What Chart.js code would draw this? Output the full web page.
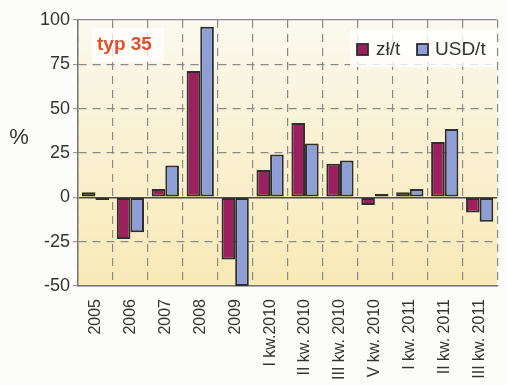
<!DOCTYPE html>
<html>
<head>
<meta charset="utf-8">
<script src="https://cdn.jsdelivr.net/npm/chart.js@4/dist/chart.umd.min.js"></script>
<style>
  html, body { margin: 0; padding: 0; background: #fcfcfb; overflow: hidden; }
  #wrap { width: 507px; height: 385px; overflow: hidden; }
  #wrap div { width: 512px; height: 385px; }
</style>
</head>
<body>
<div id="wrap"><div><canvas id="c" width="512" height="385"></canvas></div></div>
<script>
// Year-on-year change of price, type 35 (%)
const categories = ['2005', '2006', '2007', '2008', '2009', 'I kw.2010', 'II kw. 2010', 'III kw. 2010', 'V kw. 2010', 'I kw. 2011', 'II kw. 2011', 'III kw. 2011'];
const plnPerTon = [2.8, -23.5, 4.7, 71.2, -35, 15.4, 41.9, 19, -4.3, 2.8, 31.2, -8.5];
const usdPerTon = [-1.5, -19.7, 18, 96.2, -50, 24.2, 30.4, 20.8, 1.9, 4.7, 38.5, -13.8];
const seriesNames = ['zł/t', 'USD/t'];
const yTicks = { min: -50, max: 100, step: 25 };
const badge = 'typ 35';
const unit = '%';

const colors = ['#9c1f5f', '#8d9fd6'];
const FONT = '"Liberation Sans", Arial, sans-serif';

const decor = {
  id: 'decor',
  beforeDraw(chart) {
    const { ctx, chartArea: a } = chart;
    ctx.save();
    ctx.fillStyle = '#fcfcfb';
    ctx.fillRect(0, 0, chart.width, chart.height);
    const g = ctx.createLinearGradient(0, a.top, 0, a.bottom);
    g.addColorStop(0, '#fbf9f0');
    g.addColorStop(0.45, '#faf1d3');
    g.addColorStop(1, '#f8eab6');
    ctx.fillStyle = g;
    ctx.fillRect(a.left, a.top, a.right - a.left, a.bottom - a.top);
    ctx.restore();
  },
  afterDatasetsDraw(chart) {
    const { ctx } = chart;
    ctx.save();
    // badge
    ctx.fillStyle = 'rgba(255,255,255,0.72)';
    ctx.fillRect(92, 28, 72, 34);
    ctx.fillStyle = '#e14f2b';
    ctx.font = 'bold 19px ' + FONT;
    ctx.textBaseline = 'middle';
    ctx.textAlign = 'left';
    ctx.fillText(badge, 97, 45);
    // legend
    ctx.fillStyle = 'rgba(255,255,255,0.8)';
    ctx.fillRect(350, 30, 146, 37);
    const items = [[357, 376], [417, 435]];
    ctx.font = '19px ' + FONT;
    chart.data.datasets.forEach((ds, i) => {
      const [mx, tx] = items[i];
      ctx.fillStyle = ds.backgroundColor;
      ctx.fillRect(mx, 44, 11, 11);
      ctx.strokeStyle = '#2e2e2e';
      ctx.lineWidth = 1.8;
      ctx.strokeRect(mx, 44, 11, 11);
      ctx.fillStyle = '#333';
      ctx.fillText(ds.label, tx, 50);
    });
    // unit label
    ctx.font = '22px ' + FONT;
    ctx.textAlign = 'center';
    ctx.fillStyle = '#333';
    ctx.fillText(unit, 19, 138);
    ctx.restore();
  }
};

new Chart(document.getElementById('c'), {
  type: 'bar',
  data: {
    labels: categories,
    datasets: [
      { label: seriesNames[0], data: plnPerTon, backgroundColor: colors[0] },
      { label: seriesNames[1], data: usdPerTon, backgroundColor: colors[1] }
    ]
  },
  options: {
    responsive: false,
    animation: false,
    layout: { padding: { top: 20, left: 0, right: 3, bottom: 0 } },
    datasets: {
      bar: { categoryPercentage: 0.78, barPercentage: 1, borderColor: '#2e2e2e', borderWidth: 2, borderSkipped: false }
    },
    plugins: { legend: { display: false }, tooltip: { enabled: false } },
    scales: {
      x: {
        grid: { color: '#8a8a8a', lineWidth: 1.2, drawTicks: false, offset: true },
        border: { display: true, color: '#777', width: 1.5, dash: [8, 6] },
        ticks: { minRotation: 90, maxRotation: 90, padding: 13, color: '#333', font: { family: FONT, size: 16 } },
        afterFit(s) { s.height = 99; }
      },
      y: {
        min: yTicks.min, max: yTicks.max,
        grid: {
          color: c => c.tick && c.tick.value === 0 ? '#4a4a4a' : '#8a8a8a',
          lineWidth: c => c.tick && c.tick.value === 0 ? 1.5 : 1.3,
          tickLength: 5, tickColor: '#8a8a8a', tickWidth: 1
        },
        border: {
          display: true, color: '#777', width: 1.5,
          dash: c => (c.tick && (c.tick.value === 0 || c.tick.value === yTicks.max || c.tick.value === yTicks.min)) ? [] : [8, 6]
        },
        ticks: { stepSize: yTicks.step, padding: 3, color: '#333', font: { family: FONT, size: 18 } },
        afterFit(s) { s.width = 78; }
      }
    }
  },
  plugins: [decor]
});
</script>
</body>
</html>
